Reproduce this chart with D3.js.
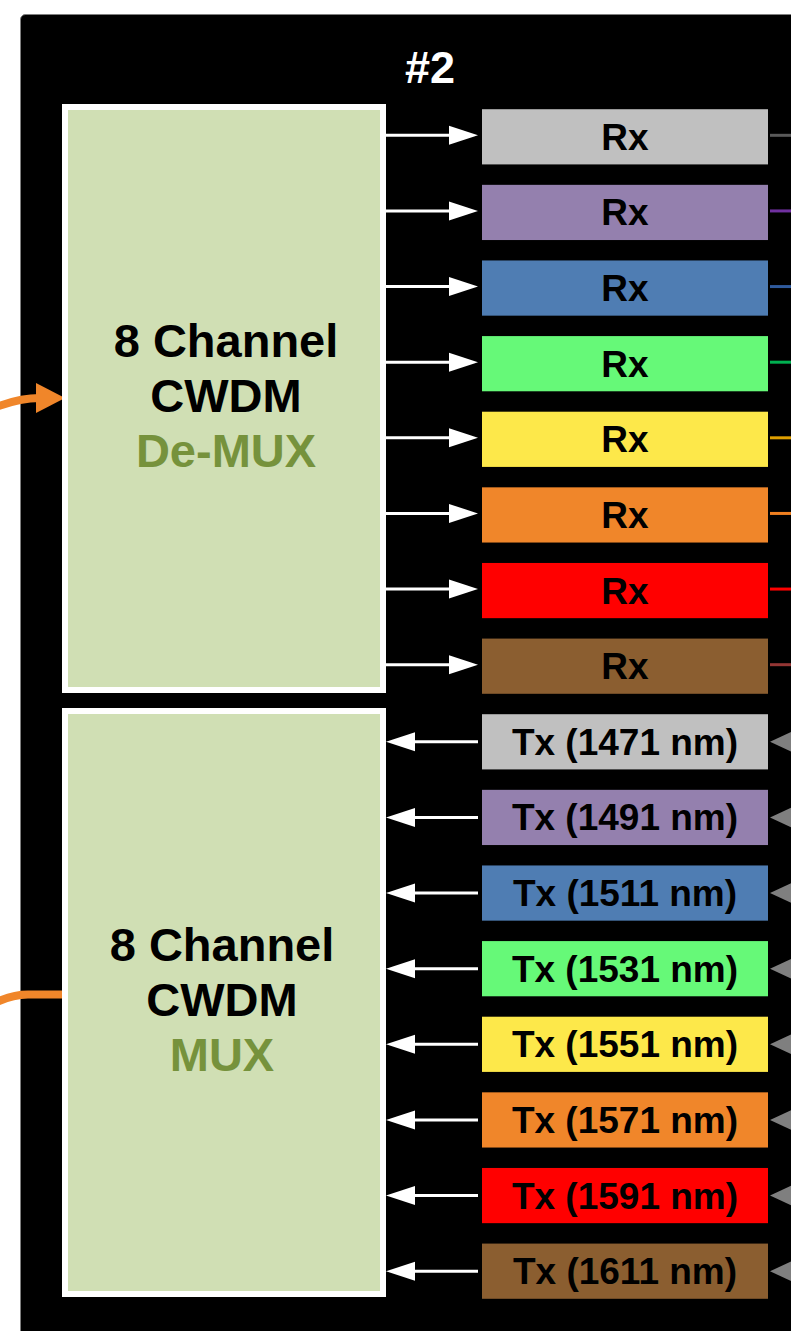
<!DOCTYPE html>
<html>
<head>
<meta charset="utf-8">
<script src="https://cdn.jsdelivr.net/npm/d3@7"></script>
<style>
html,body{margin:0;padding:0;background:#fff;}
svg{display:block;}
</style>
</head>
<body>
<svg id="chart" width="791" height="1331"></svg>
<script>
// ---- data ----
const panelTitle = "#2";
const channelColors = ["#c0c0c0","#9480ae","#4f7db3","#66f978","#fde84a","#f0862a","#ff0000","#8b5e30"];
const fiberColors   = ["#595959","#7030a0","#2f5a9c","#00b050","#e0a000","#f08020","#ff0000","#943634"];
const wavelengths   = [1471,1491,1511,1531,1551,1571,1591,1611];
const rxLabels = wavelengths.map(() => "Rx");
const txLabels = wavelengths.map(w => `Tx (${w} nm)`);
const demuxLines = ["8 Channel","CWDM","De-MUX"];
const muxLines   = ["8 Channel","CWDM","MUX"];

// ---- rows ----
const rows = [
  ...rxLabels.map((t,i)=>({kind:"rx", label:t, color:channelColors[i], fiber:fiberColors[i]})),
  ...txLabels.map((t,i)=>({kind:"tx", label:t, color:channelColors[i], fiber:fiberColors[i]}))
];

const svg = d3.select("#chart");
const font = "Arial, 'Liberation Sans', sans-serif";

const y = d3.scaleBand().domain(d3.range(rows.length))
  .range([99, 1309]).paddingInner(0.27).paddingOuter(0.135);
const x = d3.scaleLinear().domain([0,1]).range([482, 768]);

// panel
svg.append("rect").attr("x",20.5).attr("y",14.5).attr("width",900).attr("height",1400)
  .attr("rx",5).attr("fill","#000").attr("stroke","#7f7f7f").attr("stroke-width",1);

svg.append("text").attr("x",430).attr("y",83).attr("text-anchor","middle")
  .attr("font-family",font).attr("font-weight","bold").attr("font-size",45)
  .attr("fill","#fff").text(panelTitle);

// orange fibers
const orange = "#f0862a";
svg.append("path").attr("d","M -40 425 Q 5 398 40 398").attr("fill","none")
  .attr("stroke",orange).attr("stroke-width",8);
svg.append("path").attr("d","M 65 398 L 36 383 L 36 413 Z").attr("fill",orange);
svg.append("path").attr("d","M 62 994.5 L 28 994.5 Q 5 994.5 -20 1012").attr("fill","none")
  .attr("stroke",orange).attr("stroke-width",8);

// mux / demux boxes
const boxes = [
  {y0:104, y1:693, lines:demuxLines, cx:226},
  {y0:708, y1:1297, lines:muxLines, cx:222}
];
boxes.forEach(b=>{
  svg.append("rect").attr("x",65).attr("y",b.y0+3).attr("width",318).attr("height",b.y1-b.y0-6)
    .attr("fill","#d0dfb4").attr("stroke","#fff").attr("stroke-width",6);
  b.lines.forEach((t,i)=>{
    svg.append("text").attr("x",b.cx).attr("y",b.y0+253+i*55).attr("text-anchor","middle")
      .attr("font-family",font).attr("font-weight","bold").attr("font-size",47)
      .attr("fill", i===2 ? "#76923c" : "#000").text(t);
  });
});

// channel boxes
const g = svg.append("g");
const row = g.selectAll("g.row").data(rows).join("g").attr("class","row");
row.append("rect").attr("x",x(0)).attr("y",(d,i)=>y(i)).attr("width",x(1)-x(0))
  .attr("height",y.bandwidth()).attr("fill",d=>d.color);
row.append("text").attr("x",(x(0)+x(1))/2).attr("y",(d,i)=>y(i)+y.bandwidth()/2+13)
  .attr("text-anchor","middle").attr("font-family",font).attr("font-weight","bold")
  .attr("font-size",37).attr("fill","#000").text(d=>d.label);

// arrows and fibers
row.each(function(d,i){
  const gg = d3.select(this);
  const cy = y(i)+y.bandwidth()/2 - (d.kind==="rx"?1.5:0);
  if(d.kind==="rx"){
    gg.append("line").attr("x1",386).attr("x2",452).attr("y1",cy).attr("y2",cy)
      .attr("stroke","#fff").attr("stroke-width",3);
    gg.append("path").attr("d",`M 478 ${cy} L 449 ${cy-9.5} L 449 ${cy+9.5} Z`).attr("fill","#fff");
    gg.append("line").attr("x1",770).attr("x2",800).attr("y1",cy).attr("y2",cy)
      .attr("stroke",d.fiber).attr("stroke-width",3);
  } else {
    gg.append("line").attr("x1",412).attr("x2",478).attr("y1",cy).attr("y2",cy)
      .attr("stroke","#fff").attr("stroke-width",3);
    gg.append("path").attr("d",`M 386 ${cy} L 415 ${cy-9.5} L 415 ${cy+9.5} Z`).attr("fill","#fff");
    gg.append("path").attr("d",`M 770 ${cy} L 796 ${cy-12} L 796 ${cy+12} Z`).attr("fill","#7f7f7f");
  }
});
</script>
</body>
</html>
